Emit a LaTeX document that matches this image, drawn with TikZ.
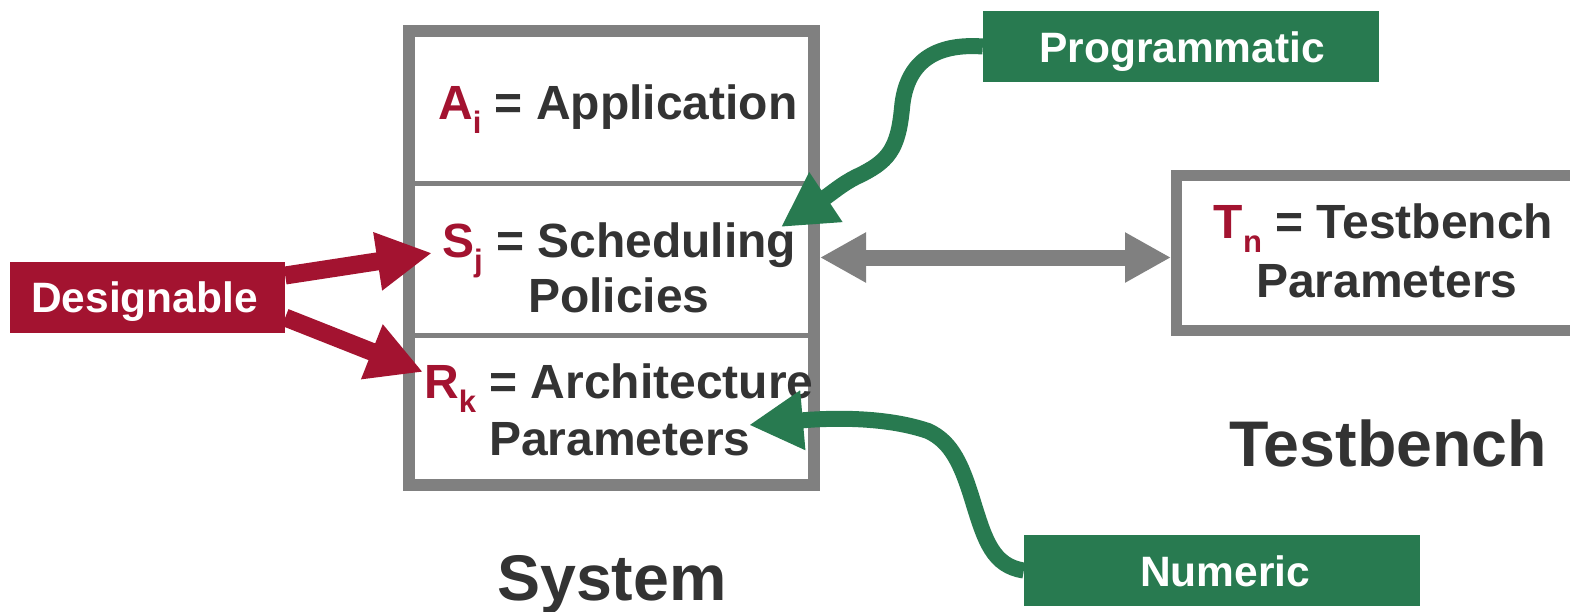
\documentclass[tikz,border=0pt]{standalone}
\usepackage{fontspec}
\setmainfont{Liberation Sans}
\usetikzlibrary{arrows.meta,calc}

\definecolor{dred}{HTML}{A31330}
\definecolor{dgreen}{HTML}{287A50}
\definecolor{frame}{HTML}{808080}
\definecolor{ink}{HTML}{333333}

% red lowered index after a symbol
\newcommand\idx[1]{\raisebox{-14pt}{\fontsize{31}{31}\selectfont\color{dred}#1}}
\newcommand\sym[1]{\textcolor{dred}{#1}}

\begin{document}
\begin{tikzpicture}[x=1pt,y=-1pt,
  boxframe/.style={draw=frame,line width=12pt,fill=white,inner sep=0pt},
  divider/.style={draw=frame,line width=5pt},
  label/.style={inner sep=0pt,anchor=base west,text=ink,font=\bfseries\fontsize{48}{52}\selectfont},
  biglabel/.style={inner sep=0pt,anchor=base west,text=ink,font=\bfseries\fontsize{64.5}{68}\selectfont},
  tag/.style={inner sep=0pt,draw=none},
  tagtext/.style={inner sep=0pt,anchor=base west,text=white,font=\bfseries\fontsize{42.5}{46}\selectfont},
  redarrow/.style={draw=dred,line width=18pt,-{Triangle[length=55pt,width=55pt]}},
  greenarrow/.style={draw=dgreen,line width=16pt,-{Triangle[length=54pt,width=56pt]}},
  grayarrow/.style={draw=frame,line width=16pt,{Triangle[length=46pt,width=47pt]}-{Triangle[length=46pt,width=47pt]}}
]
\clip (0,0) rectangle (1570,611);
\fill[white] (0,0) rectangle (1570,611);

% System block with its three sections
\node[boxframe,minimum width=405pt,minimum height=454pt] (sys) at (611.5,257.5) {};
\draw[divider] (sys.west |- 0,183.5) -- (sys.east |- 0,183.5);
\draw[divider] (sys.west |- 0,335.5) -- (sys.east |- 0,335.5);

\node[label] (app) at (438,119) {\sym{A}\idx{i} = Application};
\node[label] (sch) at (442,257) {\sym{S}\idx{j} = Scheduling};
\node[label] (pol) at (528,312) {Policies};
\node[label] (arc) at (424,398) {\sym{R}\idx{k} = Architecture};
\node[label] (apar) at (489,455) {Parameters};
\node[biglabel] (systxt) at (497,600) {System};

% Testbench block
\node[boxframe,line width=11pt,minimum width=443.5pt,minimum height=155pt] (tb) at (1398.25,253) {};
\node[label] (tbn) at (1213.5,238.5) {\sym{T}\idx{n} = Testbench};
\node[label] (tpar) at (1256,297) {Parameters};
\node[biglabel] (tbtxt) at (1229,466) {Testbench};

% coloured tags
\node[tag,fill=dred,minimum width=275pt,minimum height=71pt] (dz) at (147.5,297.5) {};
\node[tagtext] (dztxt) at (31,312) {Designable};
\node[tag,fill=dgreen,minimum width=396pt,minimum height=71pt] (pg) at (1181,46.5) {};
\node[tagtext] (pgtxt) at (1039,62) {Programmatic};
\node[tag,fill=dgreen,minimum width=396pt,minimum height=71pt] (nm) at (1222,570.5) {};
\node[tagtext] (nmtxt) at (1140,586.5) {Numeric};

% tips of the connectors
\coordinate (tipS) at (432,253);
\coordinate (tipR) at (423,372);
\coordinate (tipP) at (781,227);
\coordinate (tipN) at (749,425);

% connectors
\draw[grayarrow] (sys.east) -- (sys.east -| tb.west);
\draw[redarrow] ([yshift=22pt]dz.east) -- (tipS);
\draw[redarrow] ([yshift=-20pt]dz.east) -- (tipR);
\draw[greenarrow] (pg.west) .. controls (935,43) and (906,62) .. (902,108)
  .. controls (898,150) and (888,162) .. (856,177)
  .. controls (842,184) and (832,193) .. (tipP);
\draw[greenarrow] (nm.west) .. controls (993,566) and (985,540) .. (974,505)
  .. controls (962,465) and (952,442) .. (928,431)
  .. controls (890,418) and (840,417) .. (tipN);
\end{tikzpicture}
\end{document}
